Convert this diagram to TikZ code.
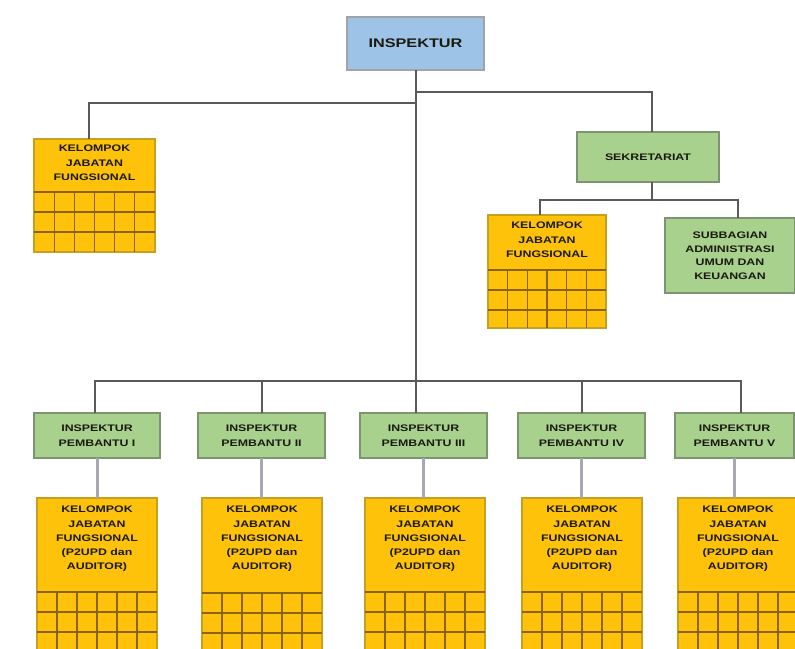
\documentclass[tikz,border=0pt]{standalone}
\usepackage{fontspec}
\setmainfont{Liberation Sans}[FakeStretch=1.3]
\definecolor{kjffill}{HTML}{FFC20A}
\definecolor{kjfborder}{HTML}{C8A020}
\definecolor{gridcol}{HTML}{8A6400}
\definecolor{grnfill}{HTML}{A9D18E}
\definecolor{grnborder}{HTML}{7E9470}
\definecolor{bluefill}{HTML}{9DC3E6}
\definecolor{blueborder}{HTML}{A0A4A8}
\definecolor{conncol}{HTML}{5A5A5A}
\definecolor{lconncol}{HTML}{A8A8B4}
\definecolor{txtcol}{HTML}{1A1A10}
\tikzset{
  box/.style={rectangle, line width=1.5pt, inner sep=0pt, outer sep=0pt},
  yel/.style={box, draw=kjfborder, fill=kjffill},
  grn/.style={box, draw=grnborder, fill=grnfill, align=center, text=txtcol,
    font=\fontsize{9.5}{14.5}\selectfont\bfseries},
  blu/.style={box, draw=blueborder, fill=bluefill, text=txtcol,
    font=\fontsize{12.5}{14}\selectfont\bfseries},
  txt/.style={align=center, inner sep=0pt, text=txtcol,
    font=\fontsize{9.5}{14.2}\selectfont\bfseries},
  conn/.style={draw=conncol, line width=2pt},
  lconn/.style={draw=lconncol, line width=3pt},
  gridl/.style={draw=gridcol, line width=1.2pt},
}
% #1 style, #2 x1, #3 y1, #4 x2, #5 y2, #6 name, #7 text
\newcommand\bx[7]{\node[#1, minimum width={#4-#2}, minimum height={#5-#3}] (#6) at ({(#2+#4)/2},{(#3+#5)/2}) {#7};}
% #1 x1, #2 x2, #3 ybottom, #4 grid top, #5 list of horizontal lines
\newcommand\grd[5]{%
  \foreach \k in {1,...,5} {\draw[gridl] ({#1+\k*(#2-#1)/6},#4) -- ({#1+\k*(#2-#1)/6},#3);}
  \foreach \yy in {#5} {\draw[gridl] (#1,\yy) -- (#2,\yy);}
}
\begin{document}
\begin{tikzpicture}[x=1pt,y=-1pt]
\useasboundingbox[fill=white] (0,0) rectangle (795,648);

% top
\bx{blu}{347}{17}{484}{70}{insp}{INSPEKTUR}

% left KJF
\bx{yel}{34}{139}{155}{252}{kjf0}{}
\grd{34}{155}{252}{192}{192,212,232}
\node[txt, anchor=north] (kjf0t) at (kjf0.north |- 0,145) {KELOMPOK\\JABATAN\\FUNGSIONAL};

% sekretariat
\bx{grn}{577}{132}{719}{182}{sek}{SEKRETARIAT}
\bx{yel}{488}{215}{606}{328}{kjf1}{}
\grd{488}{606}{328}{270}{270,290,310}
\node[txt, anchor=north] (kjf1t) at (kjf1.north |- 0,222) {KELOMPOK\\JABATAN\\FUNGSIONAL};
\node[grn, minimum width=130, minimum height=75, font=\fontsize{9.5}{13.5}\selectfont\bfseries] (sub) at (730,255.5) {SUBBAGIAN\\ADMINISTRASI\\UMUM DAN\\KEUANGAN};

% inspektur pembantu
\bx{grn}{34}{413}{160}{458}{ip1}{INSPEKTUR\\PEMBANTU I}
\bx{grn}{198}{413}{325}{458}{ip2}{INSPEKTUR\\PEMBANTU II}
\bx{grn}{360}{413}{487}{458}{ip3}{INSPEKTUR\\PEMBANTU III}
\bx{grn}{518}{413}{645}{458}{ip4}{INSPEKTUR\\PEMBANTU IV}
\bx{grn}{675}{413}{794}{458}{ip5}{INSPEKTUR\\PEMBANTU V}

% bottom KJF boxes
\bx{yel}{37}{498}{157}{655}{k1}{}
\bx{yel}{202}{498}{322}{655}{k2}{}
\bx{yel}{365}{498}{485}{655}{k3}{}
\bx{yel}{522}{498}{642}{655}{k4}{}
\bx{yel}{678}{498}{798}{655}{k5}{}
\grd{37}{157}{655}{592}{592,612,632}
\grd{202}{322}{655}{593}{593,613,633}
\grd{365}{485}{655}{592}{592,612,632}
\grd{522}{642}{655}{592}{592,612,632}
\grd{678}{798}{655}{592}{592,612,632}
\foreach \n in {1,...,5} {
  \node[txt, anchor=north] (k\n t) at (k\n.north |- 0,506) {KELOMPOK\\JABATAN\\FUNGSIONAL\\(P2UPD dan\\AUDITOR)};
}

% connectors
\coordinate (jl) at (insp.south |- 0,103);
\coordinate (jr) at (insp.south |- 0,92);
\coordinate (bus) at (insp.south |- 0,381);
\coordinate (sb) at (652,200);
\draw[conn] (insp.south) -- (insp.south |- ip3.north);
\draw[conn] (jl) -| ([xshift=-6pt]kjf0.north);
\draw[conn] (jr) -| ([xshift=4pt]sek.north);
\draw[conn] ([xshift=4pt]sek.south) -- (sb);
\draw[conn] ([xshift=-7pt]kjf1.north) |- (sb) -| ([xshift=8pt]sub.north);
\draw[conn] ([xshift=-2pt]ip1.north) |- (bus) -| ([xshift=6pt]ip5.north);
\draw[conn] (ip2.north) -- (ip2.north |- bus);
\draw[conn] (ip4.north) -- (ip4.north |- bus);
\foreach \n in {1,...,5} {\draw[lconn] (ip\n.south) -- (ip\n.south |- k\n.north);}
\end{tikzpicture}
\end{document}
